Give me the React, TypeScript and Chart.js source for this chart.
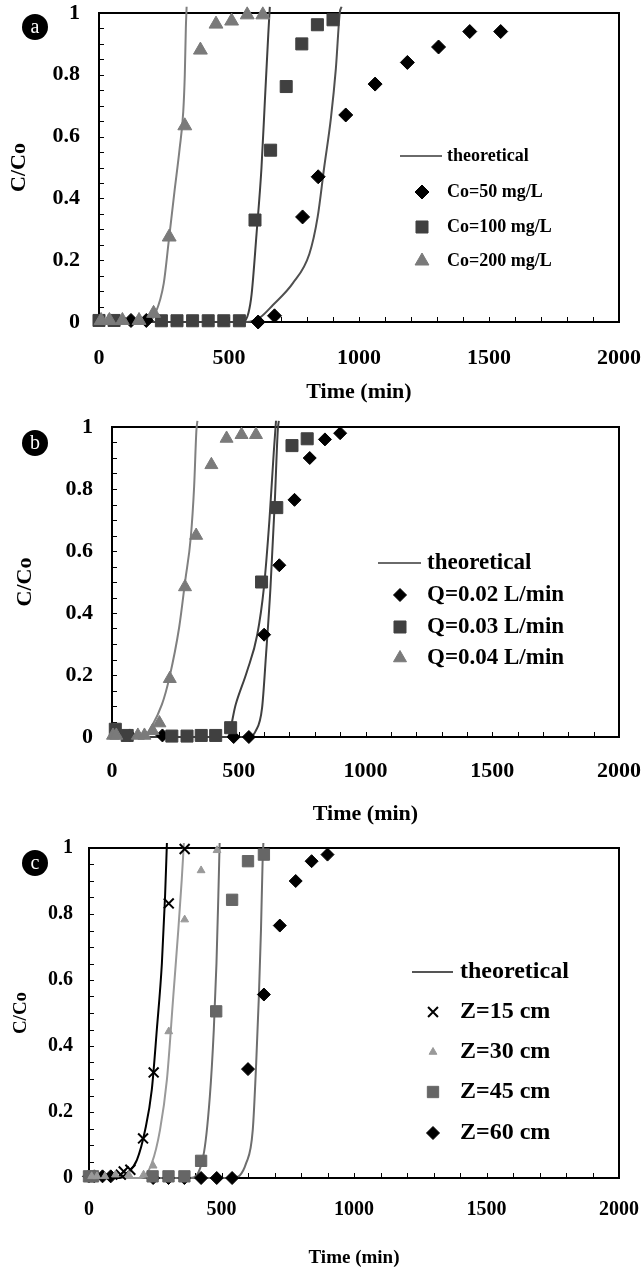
import React, { useEffect, useRef } from 'react';
import { Chart, registerables } from 'chart.js';
import { drawPoint } from 'chart.js/helpers';

Chart.register(...registerables);

const SERIF = '"Liberation Serif", "Times New Roman", serif';

// ---------- shared ----------
const X_MIN = 0;
const X_MAX = 2000;
const X_STEP = 500;
const Y_MIN = 0;
const Y_MAX = 1;
const Y_STEP = 0.2;
const X_TITLE = 'Time (min)';
const Y_TITLE = 'C/Co';
const FIT_LABEL = 'theoretical';

// ---------- panel a ----------
const A_LABELS = ['Co=50 mg/L', 'Co=100 mg/L', 'Co=200 mg/L'];
const A50_T = [123, 182, 612, 675, 783, 843, 949, 1062, 1186, 1306, 1426, 1545];
const A50_C = [0.005, 0.005, 0, 0.02, 0.34, 0.47, 0.67, 0.77, 0.84, 0.89, 0.94, 0.94];
const A100_T = [0, 58, 240, 300, 360, 420, 480, 540, 600, 660, 720, 780, 840, 900];
const A100_C = [0.005, 0.005, 0.004, 0.004, 0.004, 0.004, 0.004, 0.004, 0.33, 0.556, 0.762, 0.9, 0.962, 0.978];
const A200_T = [8, 40, 90, 154, 210, 270, 330, 390, 450, 510, 570, 630];
const A200_C = [0.005, 0.005, 0.005, 0.005, 0.028, 0.275, 0.635, 0.88, 0.964, 0.974, 0.994, 0.994];
const A50_FIT_T = [0, 567, 620, 669, 745, 809, 841, 866, 892, 911, 926, 933];
const A50_FIT_C = [0, 0, 0.015, 0.055, 0.125, 0.22, 0.34, 0.5, 0.66, 0.82, 1.0, 1.02];
const A100_FIT_T = [0, 555, 575, 587, 606, 625, 638, 651, 657];
const A100_FIT_C = [0, 0, 0.03, 0.09, 0.286, 0.5, 0.716, 0.93, 1.02];
const A200_FIT_T = [0, 150, 192, 218, 249, 268, 290, 310, 324, 330, 334, 337];
const A200_FIT_C = [0, 0, 0.003, 0.03, 0.125, 0.26, 0.42, 0.56, 0.68, 0.8, 0.95, 1.02];

// ---------- panel b ----------
const B_LABELS = ['Q=0.02 L/min', 'Q=0.03 L/min', 'Q=0.04 L/min'];
const B02_T = [70, 199, 480, 540, 600, 660, 720, 780, 840, 900];
const B02_C = [0.005, 0.005, 0, 0, 0.33, 0.554, 0.765, 0.9, 0.96, 0.98];
const B03_T = [13, 60, 236, 296, 352, 409, 468, 590, 650, 710, 770];
const B03_C = [0.025, 0.005, 0.003, 0.003, 0.005, 0.005, 0.03, 0.5, 0.74, 0.94, 0.962];
const B04_T = [4, 17, 102, 128, 160, 187, 228, 288, 332, 392, 452, 511, 568];
const B04_C = [0.005, 0.005, 0.005, 0.005, 0.02, 0.045, 0.188, 0.484, 0.65, 0.878, 0.963, 0.975, 0.975];
const B02_FIT_T = [0, 455, 488, 533, 573, 599, 621, 638, 647];
const B02_FIT_C = [0, 0, 0.105, 0.213, 0.33, 0.48, 0.7, 0.917, 1.02];
const B03_FIT_T = [0, 540, 566, 592, 608, 625, 642, 654, 658];
const B03_FIT_C = [0, 0, 0.018, 0.094, 0.27, 0.48, 0.755, 0.99, 1.02];
const B04_FIT_T = [0, 126, 154, 197, 226, 265, 289, 311, 324, 333, 337];
const B04_FIT_C = [0, 0, 0.03, 0.105, 0.19, 0.354, 0.505, 0.646, 0.808, 0.99, 1.02];

// ---------- panel c ----------
const C_LABELS = ['Z=15 cm', 'Z=30 cm', 'Z=45 cm', 'Z=60 cm'];
const C15_T = [120, 131, 156, 204, 244, 301, 361];
const C15_C = [0.01, 0.02, 0.025, 0.12, 0.32, 0.832, 0.997];
const C30_T = [10, 30, 60, 100, 150, 206, 242, 301, 361, 423, 483];
const C30_C = [0.005, 0.005, 0.005, 0.01, 0.01, 0.01, 0.037, 0.444, 0.783, 0.932, 0.993];
const C45_T = [0, 15, 240, 300, 360, 423, 480, 540, 600, 660];
const C45_C = [0.005, 0.005, 0.005, 0.005, 0.005, 0.052, 0.505, 0.843, 0.96, 0.98];
const C60_T = [0, 20, 51, 82, 242, 300, 360, 423, 482, 540, 600, 660, 720, 780, 840, 900];
const C60_C = [0.005, 0.005, 0.005, 0.005, 0, 0, 0, 0, 0, 0, 0.33, 0.556, 0.765, 0.9, 0.96, 0.98];
const C15_FIT_T = [0, 112, 144, 181, 212, 237, 256, 275, 287, 294];
const C15_FIT_C = [0, 0, 0.015, 0.055, 0.146, 0.268, 0.45, 0.65, 0.853, 1.015];
const C30_FIT_T = [0, 196, 237, 268, 294, 318, 337, 350, 358];
const C30_FIT_C = [0, 0, 0.045, 0.146, 0.298, 0.55, 0.752, 0.904, 1.015];
const C45_FIT_T = [0, 381, 431, 456, 471, 481, 488, 493];
const C45_FIT_C = [0, 0, 0.065, 0.247, 0.45, 0.65, 0.853, 1.015];
const C60_FIT_T = [0, 543, 593, 618, 631, 641, 649, 655, 658];
const C60_FIT_C = [0, 0, 0.045, 0.146, 0.35, 0.55, 0.752, 0.955, 1.015];

function pts(t: number[], c: number[]) {
  return t.map((v, i) => ({ x: v, y: c[i] }));
}

function markerDs(t: number[], c: number[], style: string, color: string, r: number, bw = 1) {
  return {
    data: pts(t, c),
    showLine: false,
    pointStyle: style,
    pointRadius: r,
    pointHoverRadius: r,
    pointBackgroundColor: color,
    pointBorderColor: color,
    pointBorderWidth: bw,
    backgroundColor: color,
    borderColor: color,
    clip: false,
    order: 0,
  };
}

function curveDs(t: number[], c: number[], color: string) {
  return {
    data: pts(t, c),
    showLine: true,
    borderColor: color,
    backgroundColor: color,
    borderWidth: 2,
    pointRadius: 0,
    pointHoverRadius: 0,
    cubicInterpolationMode: 'monotone',
    fill: false,
    clip: false,
    order: 1,
  };
}

type LegendItem = { label: string; style: string; color: string; r: number; bw?: number };
type LegendCfg = {
  lineX1: number; lineX2: number; lineY: number; lineColor: string;
  textX: number; markerX: number; ys: number[]; font: number; items: LegendItem[];
};

type PanelCfg = {
  top: number; height: number; plotLeft: number; plotTop: number; plotBottom: number; plotRight: number;
  tickFont: number; xTitleFont: number; yTitleFont: number;
  yTickPad: number; xTickPad: number; yTitlePad: number; xTitlePad: number;
  datasets: any[]; legend: LegendCfg; letter: string; cx: number; cy: number;
};

function fmt(v: any) {
  return String(Math.round(Number(v) * 1000) / 1000);
}

function decorPlugin(lg: LegendCfg) {
  return {
    id: 'decor',
    beforeDatasetsDraw(chart: any) {
      const { ctx, chartArea: a, scales } = chart;
      const x = scales.x;
      const y = scales.y;
      ctx.save();
      ctx.strokeStyle = '#000';
      ctx.lineWidth = 1;
      ctx.beginPath();
      for (let k = 0; k <= 20; k++) {
        const px = Math.round(x.getPixelForValue(k * 100)) + 0.5;
        ctx.moveTo(px, a.bottom);
        ctx.lineTo(px, a.bottom - 5);
      }
      for (let k = 0; k <= 20; k++) {
        const py = Math.round(y.getPixelForValue(k * 0.05)) + 0.5;
        ctx.moveTo(a.left, py);
        ctx.lineTo(a.left + 5, py);
      }
      ctx.stroke();
      ctx.lineWidth = 2;
      ctx.strokeRect(a.left, a.top, a.right - a.left, a.bottom - a.top);
      ctx.restore();
    },
    afterDraw(chart: any) {
      const ctx = chart.ctx;
      ctx.save();
      ctx.strokeStyle = lg.lineColor;
      ctx.lineWidth = 2;
      ctx.beginPath();
      ctx.moveTo(lg.lineX1, lg.lineY);
      ctx.lineTo(lg.lineX2, lg.lineY);
      ctx.stroke();
      ctx.fillStyle = '#000';
      ctx.font = `bold ${lg.font}px ${SERIF}`;
      ctx.textBaseline = 'middle';
      ctx.textAlign = 'left';
      ctx.fillText(FIT_LABEL, lg.textX, lg.lineY);
      lg.items.forEach((it, i) => {
        ctx.fillStyle = it.color;
        ctx.strokeStyle = it.color;
        ctx.lineWidth = it.bw ?? 1;
        drawPoint(ctx, { pointStyle: it.style as any, radius: it.r, rotation: 0, borderWidth: it.bw ?? 1 } as any, lg.markerX, lg.ys[i]);
        ctx.fillStyle = '#000';
        ctx.fillText(it.label, lg.textX, lg.ys[i]);
      });
      ctx.restore();
    },
  };
}

function zeroPad(s: any) {
  s.paddingTop = 0;
  s.paddingBottom = 0;
  s.paddingLeft = 0;
  s.paddingRight = 0;
}

function Panel({ cfg }: { cfg: PanelCfg }) {
  const ref = useRef<HTMLCanvasElement>(null);
  useEffect(() => {
    if (!ref.current) return;
    const tickFont = { family: SERIF, size: cfg.tickFont, weight: 'bold' as const };
    const chart = new Chart(ref.current, {
      type: 'scatter',
      data: { datasets: cfg.datasets },
      options: {
        responsive: false,
        animation: false,
        devicePixelRatio: 1,
        layout: { padding: { top: cfg.plotTop, right: 644 - cfg.plotRight, left: 0, bottom: 0 } },
        plugins: { legend: { display: false }, tooltip: { enabled: false } },
        scales: {
          x: {
            type: 'linear',
            position: 'bottom',
            min: X_MIN,
            max: X_MAX,
            ticks: { stepSize: X_STEP, padding: cfg.xTickPad, color: '#000', font: tickFont, maxRotation: 0, autoSkip: false, callback: fmt },
            grid: { display: false, drawTicks: false },
            border: { display: false },
            title: {
              display: true,
              text: X_TITLE,
              color: '#000',
              font: { family: SERIF, size: cfg.xTitleFont, weight: 'bold' },
              padding: { top: 0, bottom: cfg.xTitlePad },
            },
            afterFit: (s: any) => { s.height = cfg.height - cfg.plotBottom; zeroPad(s); },
          },
          y: {
            type: 'linear',
            min: Y_MIN,
            max: Y_MAX,
            ticks: { stepSize: Y_STEP, padding: cfg.yTickPad, color: '#000', font: tickFont, autoSkip: false, callback: fmt },
            grid: { display: false, drawTicks: false },
            border: { display: false },
            title: {
              display: true,
              text: Y_TITLE,
              color: '#000',
              font: { family: SERIF, size: cfg.yTitleFont, weight: 'bold' },
              padding: { top: cfg.yTitlePad, bottom: 0 },
            },
            afterFit: (s: any) => { s.width = cfg.plotLeft; zeroPad(s); },
          },
        },
      } as any,
      plugins: [decorPlugin(cfg.legend)],
    });
    return () => chart.destroy();
  }, []);
  return (
    <div style={{ position: 'absolute', left: 0, top: cfg.top, width: 644, height: cfg.height }}>
      <canvas ref={ref} width={644} height={cfg.height} style={{ width: 644, height: cfg.height, display: 'block' }} />
      <div
        style={{
          position: 'absolute', left: cfg.cx - 13, top: cfg.cy - 13, width: 26, height: 26, borderRadius: 13,
          background: '#000', color: '#fff', fontFamily: SERIF, fontSize: 20, lineHeight: '24px', textAlign: 'center',
        }}
      >
        {cfg.letter}
      </div>
    </div>
  );
}

const DARK = '#404040';
const MID = '#7a7a7a';

const panelA: PanelCfg = {
  top: 0, height: 408, plotLeft: 99, plotTop: 13, plotBottom: 322, plotRight: 619,
  tickFont: 22, xTitleFont: 22, yTitleFont: 22, yTickPad: 19, xTickPad: 23, yTitlePad: 6, xTitlePad: 2,
  datasets: [
    curveDs(A200_FIT_T, A200_FIT_C, '#808080'),
    curveDs(A100_FIT_T, A100_FIT_C, '#404040'),
    curveDs(A50_FIT_T, A50_FIT_C, '#505050'),
    markerDs(A200_T, A200_C, 'triangle', MID, 8),
    markerDs(A100_T, A100_C, 'rect', DARK, 8.5),
    markerDs(A50_T, A50_C, 'rectRot', '#000', 7),
  ],
  legend: {
    lineX1: 400, lineX2: 442, lineY: 156, lineColor: '#6a6a6a', textX: 447, markerX: 422, ys: [192, 227, 261], font: 18,
    items: [
      { label: A_LABELS[0], style: 'rectRot', color: '#000', r: 7 },
      { label: A_LABELS[1], style: 'rect', color: DARK, r: 8.5 },
      { label: A_LABELS[2], style: 'triangle', color: MID, r: 8 },
    ],
  },
  letter: 'a', cx: 35, cy: 27,
};

const panelB: PanelCfg = {
  top: 408, height: 427, plotLeft: 112, plotTop: 19, plotBottom: 329, plotRight: 619,
  tickFont: 22, xTitleFont: 22, yTitleFont: 22, yTickPad: 19, xTickPad: 21, yTitlePad: 12, xTitlePad: 7,
  datasets: [
    curveDs(B04_FIT_T, B04_FIT_C, '#808080'),
    curveDs(B02_FIT_T, B02_FIT_C, '#404040'),
    curveDs(B03_FIT_T, B03_FIT_C, '#404040'),
    markerDs(B04_T, B04_C, 'triangle', MID, 7.5),
    markerDs(B03_T, B03_C, 'rect', DARK, 8.5),
    markerDs(B02_T, B02_C, 'rectRot', '#000', 6.5),
  ],
  legend: {
    lineX1: 378, lineX2: 421, lineY: 155, lineColor: '#6a6a6a', textX: 427, markerX: 400, ys: [187, 219, 250], font: 23,
    items: [
      { label: B_LABELS[0], style: 'rectRot', color: '#000', r: 6.5 },
      { label: B_LABELS[1], style: 'rect', color: DARK, r: 8.5 },
      { label: B_LABELS[2], style: 'triangle', color: MID, r: 7.5 },
    ],
  },
  letter: 'b', cx: 35, cy: 35,
};

const panelC: PanelCfg = {
  top: 835, height: 435, plotLeft: 89, plotTop: 13, plotBottom: 343, plotRight: 619,
  tickFont: 20, xTitleFont: 19, yTitleFont: 19, yTickPad: 16, xTickPad: 20, yTitlePad: 10, xTitlePad: 1,
  datasets: [
    curveDs(C15_FIT_T, C15_FIT_C, '#000'),
    curveDs(C30_FIT_T, C30_FIT_C, '#999999'),
    curveDs(C45_FIT_T, C45_FIT_C, '#6e6e6e'),
    curveDs(C60_FIT_T, C60_FIT_C, '#6e6e6e'),
    markerDs(C30_T, C30_C, 'triangle', '#999999', 4.5),
    markerDs(C45_T, C45_C, 'rect', '#666666', 8),
    markerDs(C60_T, C60_C, 'rectRot', '#000', 6.5),
    markerDs(C15_T, C15_C, 'crossRot', '#000', 7, 2),
  ],
  legend: {
    lineX1: 412, lineX2: 453, lineY: 137, lineColor: '#555', textX: 460, markerX: 433, ys: [177, 217, 257, 298], font: 24,
    items: [
      { label: C_LABELS[0], style: 'crossRot', color: '#000', r: 7, bw: 2 },
      { label: C_LABELS[1], style: 'triangle', color: '#999999', r: 4.5 },
      { label: C_LABELS[2], style: 'rect', color: '#666666', r: 8 },
      { label: C_LABELS[3], style: 'rectRot', color: '#000', r: 6.5 },
    ],
  },
  letter: 'c', cx: 35, cy: 28,
};

export default function App() {
  return (
    <div style={{ position: 'absolute', left: 0, top: 0, width: 644, height: 1270, background: '#fff', overflow: 'hidden' }}>
      <Panel cfg={panelA} />
      <Panel cfg={panelB} />
      <Panel cfg={panelC} />
    </div>
  );
}
